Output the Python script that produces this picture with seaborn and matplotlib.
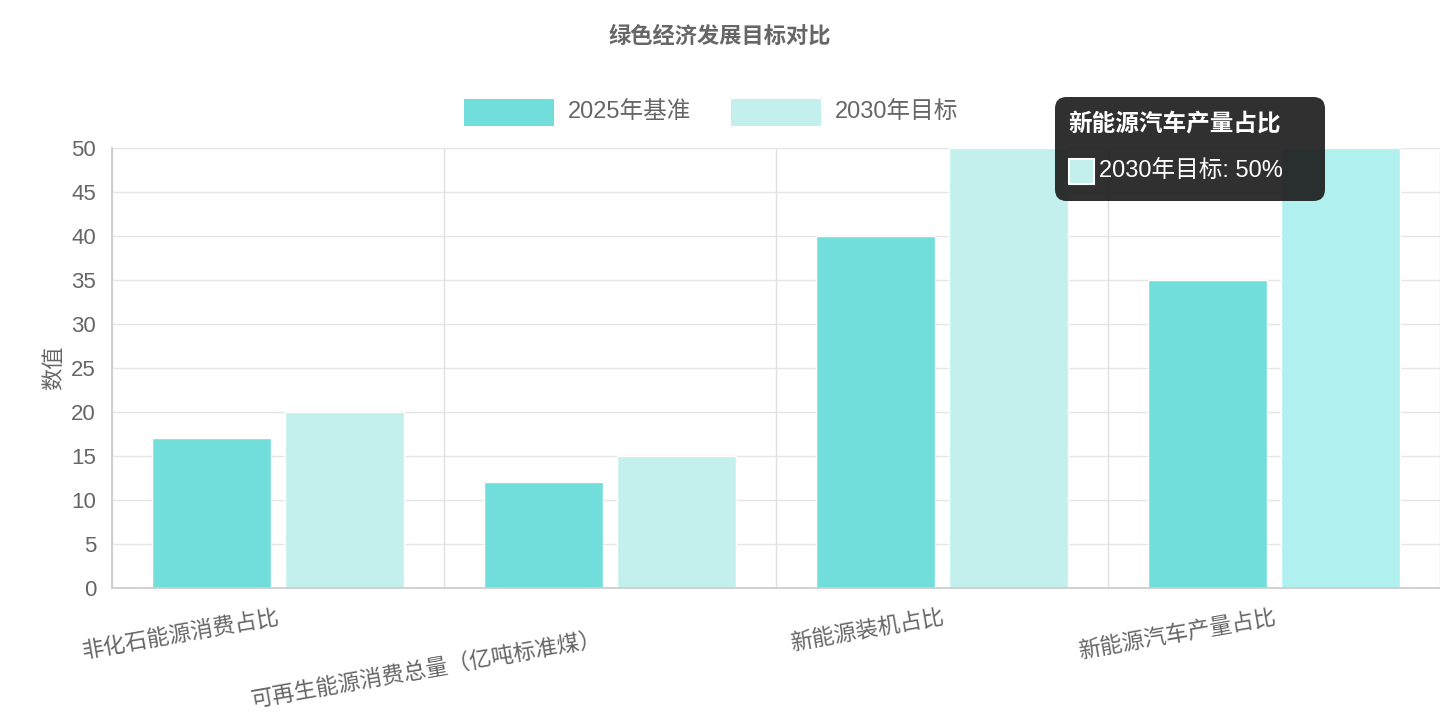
import matplotlib
matplotlib.use("Agg")
import matplotlib.pyplot as plt
import matplotlib.transforms as mtransforms
from matplotlib.patches import FancyBboxPatch, Rectangle
import pandas as pd
import seaborn as sns

categories = ["非化石能源消费占比", "可再生能源消费总量（亿吨标准煤）", "新能源装机占比", "新能源汽车产量占比"]
series = ["2025年基准", "2030年目标"]
values_2025 = [17, 12, 40, 35]
values_2030 = [20, 15, 50, 50]
colors = ["#72dedb", "#c3efed"]

df = pd.DataFrame({
    "category": categories * 2,
    "series": [series[0]] * 4 + [series[1]] * 4,
    "value": values_2025 + values_2030,
})

sns.set_theme(style="white")
plt.rcParams["font.family"] = ["Liberation Sans", "Noto Sans CJK SC", "DejaVu Sans"]
gray = "#666666"

fig = plt.figure(figsize=(14.4, 7.2), dpi=100)
ax = fig.add_axes([112 / 1440, 1 - 588 / 720, 1328 / 1440, 440 / 720])
sns.barplot(data=df, x="category", y="value", hue="series", palette=colors,
            width=0.8, gap=0.1, saturation=1, ax=ax, legend=False)
# hovered bar is a bit brighter
ax.patches[7].set_facecolor("#b0f0ef")

ax.set_xlim(-0.5, 3.5)
ax.set_ylim(0, 50)
ax.set_yticks(range(0, 51, 5))
ax.set_xticks([i + 0.5 for i in range(-1, 4)], minor=True)
ax.grid(True, axis="y", color="#e5e5e5", linewidth=1)
ax.grid(True, axis="x", which="minor", color="#e0e0e0", linewidth=1)
ax.set_axisbelow(True)
for s in ["top", "right"]:
    ax.spines[s].set_visible(False)
for s in ["left", "bottom"]:
    ax.spines[s].set_color("#cccccc")
ax.tick_params(axis="x", which="major", length=0, pad=14)
ax.tick_params(axis="x", which="minor", length=15, color="#dddddd", width=1)
ax.tick_params(axis="y", length=8, color="#dddddd", labelsize=16, labelcolor=gray)
ax.set_xlabel("")
ax.set_ylabel("数值", fontsize=16, color=gray, labelpad=4)
labels = ax.set_xticklabels(categories, rotation=10, ha="right", rotation_mode="anchor",
                            fontsize=16, color=gray)
labels[1].set_transform(labels[1].get_transform() +
                        mtransforms.ScaledTranslation(-0.1, -0.22, fig.dpi_scale_trans))

fig.text(0.5, 1 - 37 / 720, "绿色经济发展目标对比", ha="center", va="center",
         fontsize=16, fontweight="bold", color=gray)

# legend
for i, (name, c) in enumerate(zip(series, colors)):
    x0 = [464, 731][i]
    fig.patches.append(Rectangle((x0 / 1440, 1 - 126 / 720), 90 / 1440, 27 / 720,
                                 transform=fig.transFigure, facecolor=c, edgecolor="none"))
    fig.text((x0 + 104) / 1440, 1 - 112 / 720, name, ha="left", va="center",
             fontsize=17, color=gray)

# tooltip
fig.patches.append(FancyBboxPatch((1055 / 1440, 1 - 201 / 720), 270 / 1440, 104 / 720,
                                  boxstyle="round,pad=0,rounding_size=0.008",
                                  transform=fig.transFigure, facecolor="#1e1e1e",
                                  edgecolor="none", alpha=0.92, mutation_aspect=2))
fig.text(1068 / 1440, 1 - 125 / 720, "新能源汽车产量占比", ha="left", va="center",
         fontsize=17, fontweight="bold", color="white")
fig.patches.append(Rectangle((1069 / 1440, 1 - 184 / 720), 25 / 1440, 25 / 720,
                             transform=fig.transFigure, facecolor=colors[1],
                             edgecolor="white", linewidth=1.5))
fig.text(1099 / 1440, 1 - 171 / 720, "2030年目标: 50%", ha="left", va="center",
         fontsize=17, color="white")

fig.savefig("out.png", dpi=100)
